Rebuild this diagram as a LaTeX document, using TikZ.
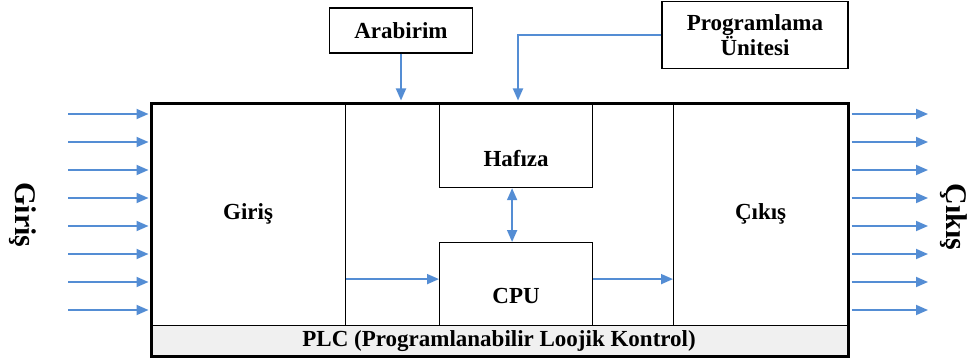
\documentclass[tikz,border=0pt]{standalone}
\usepackage{fontspec}
\setmainfont{Liberation Serif}
\usetikzlibrary{arrows.meta,positioning}
\definecolor{sigblue}{RGB}{84,141,212}
\definecolor{barfill}{RGB}{240,240,240}

\begin{document}
\begin{tikzpicture}[x=1pt,y=-1pt,
    blk/.style={draw,line width=1.2pt,inner sep=0pt,anchor=north west},
    sig/.style={sigblue,line width=1.8pt,-{Triangle[length=12pt,width=10pt]}},
    lbl/.style={font=\bfseries\fontsize{23}{25}\selectfont},
    side/.style={rotate=-90,inner sep=0pt,font=\bfseries\fontsize{30}{32}\selectfont}]
  \useasboundingbox (0,0) rectangle (970,361);

  % PLC sections
  \node (giris) at (150,102) [blk,lbl,minimum width=195pt,minimum height=223pt] {Giriş};
  \node (orta) at (345,102) [blk,minimum width=328pt,minimum height=223pt] {};
  \node (cikis) at (673,102) [blk,lbl,minimum width=174pt,minimum height=223pt] {Çıkış};
  \node (hafiza) at (439,102) [blk,minimum width=153pt,minimum height=85pt,
    label={[lbl,yshift=-13pt]center:Hafıza}] {};
  \node (cpu) at (439,242) [blk,minimum width=153pt,minimum height=83pt,
    label={[lbl,yshift=-12pt]center:CPU}] {};
  \node (plc) at (150,325) [blk,lbl,fill=barfill,minimum width=697pt,minimum height=30pt]
    {PLC (Programlanabilir Loojik Kontrol)};
  \node (kasa) at (150,102) [blk,line width=3pt,minimum width=697pt,minimum height=253pt] {};

  % outside units
  \node (arabirim) at (401,30.5) [draw,lbl,line width=1.2pt,inner sep=0pt,
    minimum width=143pt,minimum height=45pt] {Arabirim};
  \node (prog) at (755,35) [draw,lbl,line width=1.2pt,inner sep=0pt,align=center,
    minimum width=186pt,minimum height=67pt] {Programlama\\Ünitesi};
  \coordinate (progin) at (518,102);

  \node (girislbl) at (23,215) [side] {Giriş};
  \node (cikislbl) at (954,217) [side] {Çıkış};

  % connections
  \draw[sig,shorten >=1.5pt] (arabirim) -- (arabirim |- kasa.north);
  \draw[sig,shorten >=1.5pt] (prog.west) -| (progin);
  \draw[sig,{Triangle[length=12pt,width=10pt]}-{Triangle[length=12pt,width=10pt]}]
    ([xshift=-4pt]hafiza.south) -- ([xshift=-4pt]cpu.north);
  \draw[sig] ([yshift=5pt]cpu.west -| giris.east) -- ([yshift=5pt]cpu.west);
  \draw[sig] ([yshift=5pt]cpu.east) -- ([yshift=5pt]cpu.east -| cikis.west);

  \foreach \i in {0,...,7} {
    \coordinate (in\i) at (68,114+28*\i);
    \coordinate (out\i) at (928,114+28*\i);
    \draw[sig,shorten >=1.5pt] (in\i) -- (in\i -| kasa.west);
    \draw[sig,shorten <=1.5pt] (out\i -| kasa.east) -- (out\i);
  }
\end{tikzpicture}
\end{document}
